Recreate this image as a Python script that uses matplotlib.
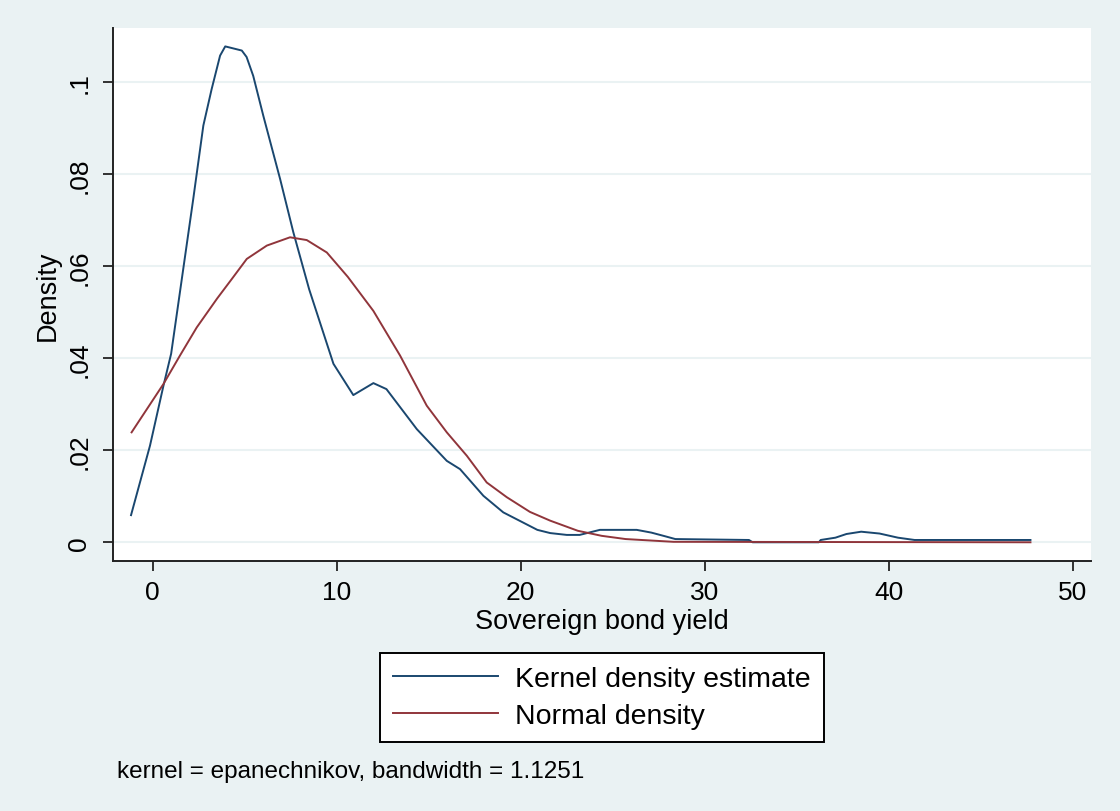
import matplotlib
matplotlib.use("Agg")
import matplotlib.pyplot as plt

plt.rcParams['font.family'] = ['Liberation Sans', 'DejaVu Sans']

# Kernel density estimate
kde_x = [-1.18, -0.15, 0.58, 1.0, 1.5, 2.2, 2.75, 3.2, 3.66, 3.94, 4.84, 5.1,
         5.46, 6.01, 6.92, 7.64, 8.5, 9.82, 10.9, 11.99, 12.7, 14.35, 15.98,
         16.7, 17.97, 19.05, 20.9, 21.6, 22.5, 23.2, 24.3, 26.3, 27.1, 27.85,
         28.4, 32.4, 32.6, 36.2, 36.3, 37.1, 37.7, 38.5, 39.5, 40.5, 41.4, 47.7]
kde_y = [0.0059, 0.021, 0.034, 0.041, 0.055, 0.0746, 0.0906, 0.0985, 0.1058,
         0.1078, 0.1069, 0.1055, 0.1014, 0.0927, 0.079, 0.0674, 0.055, 0.0388,
         0.032, 0.0346, 0.0333, 0.0246, 0.0177, 0.0159, 0.0101, 0.0065, 0.0027,
         0.0020, 0.0016, 0.0016, 0.0027, 0.0027, 0.0021, 0.0013, 0.0007, 0.0005,
         0.0, 0.0, 0.0005, 0.001, 0.0018, 0.0023, 0.0019, 0.001, 0.0005, 0.0005]

# Normal density
norm_x = [-1.15, 0.58, 1.48, 2.39, 3.5, 4.29, 5.11, 6.2, 7.46, 8.37, 9.46, 10.6,
          11.99, 13.44, 14.89, 15.98, 17.07, 18.15, 19.24, 20.5, 21.6, 23.1,
          24.4, 25.7, 28.3, 47.7]
norm_y = [0.0239, 0.0344, 0.0406, 0.0467, 0.053, 0.0572, 0.0616, 0.0645, 0.0663,
          0.0657, 0.063, 0.0577, 0.0503, 0.0406, 0.0297, 0.0239, 0.0188, 0.013,
          0.0098, 0.0066, 0.0047, 0.0025, 0.0014, 0.0007, 0.0001, 0.0]

x_ticks = [0, 10, 20, 30, 40, 50]
y_ticks = [0, 0.02, 0.04, 0.06, 0.08, 0.1]
y_tick_labels = ["0", ".02", ".04", ".06", ".08", ".1"]
legend_labels = ["Kernel density estimate", "Normal density"]
note = "kernel = epanechnikov, bandwidth = 1.1251"

BG = "#EAF2F3"
NAVY = "#1A476F"
MAROON = "#90353B"

fig = plt.figure(figsize=(11.2, 8.12), dpi=100, facecolor=BG)
ax = fig.add_axes([113/1120, 1-562/812, (1091-113)/1120, (562-29)/812])
ax.set_facecolor("white")

ax.plot(kde_x, kde_y, color=NAVY, lw=1.4, label=legend_labels[0])
ax.plot(norm_x, norm_y, color=MAROON, lw=1.4, label=legend_labels[1])

ax.set_xlim(-2.16, 50.99)
ax.set_ylim(-0.00407, 0.1118)
ax.set_xticks(x_ticks)
ax.set_yticks(y_ticks)
ax.set_yticklabels(y_tick_labels, rotation=90, va='center')
ax.grid(axis='y', color=BG, lw=1.5)
ax.set_axisbelow(True)

for s in ['top', 'right']:
    ax.spines[s].set_visible(False)
for s in ['left', 'bottom']:
    ax.spines[s].set_linewidth(1.4)
    ax.spines[s].set_color("#222222")

ax.tick_params(axis='both', labelsize=19, length=7.5, width=1.3, color="#222222")
ax.tick_params(axis='y', pad=8)
ax.tick_params(axis='x', pad=6)

ax.set_xlabel("Sovereign bond yield", fontsize=19.5, labelpad=3)
ax.set_ylabel("Density", fontsize=19.5, labelpad=5)

leg = ax.legend(loc='upper center', bbox_to_anchor=(0.5, -0.1455), ncol=1,
                fontsize=20.5, handlelength=3.7, handletextpad=0.6,
                frameon=True, fancybox=False, borderpad=0.45, labelspacing=0.4,
                framealpha=1.0)
leg.get_frame().set_edgecolor("black")
leg.get_frame().set_linewidth(1.4)
leg.get_frame().set_facecolor("white")

fig.text(117/1120, 1-772/812, note, fontsize=17.5, va='center', ha='left')

fig.savefig("out.png", dpi=100, facecolor=BG)
